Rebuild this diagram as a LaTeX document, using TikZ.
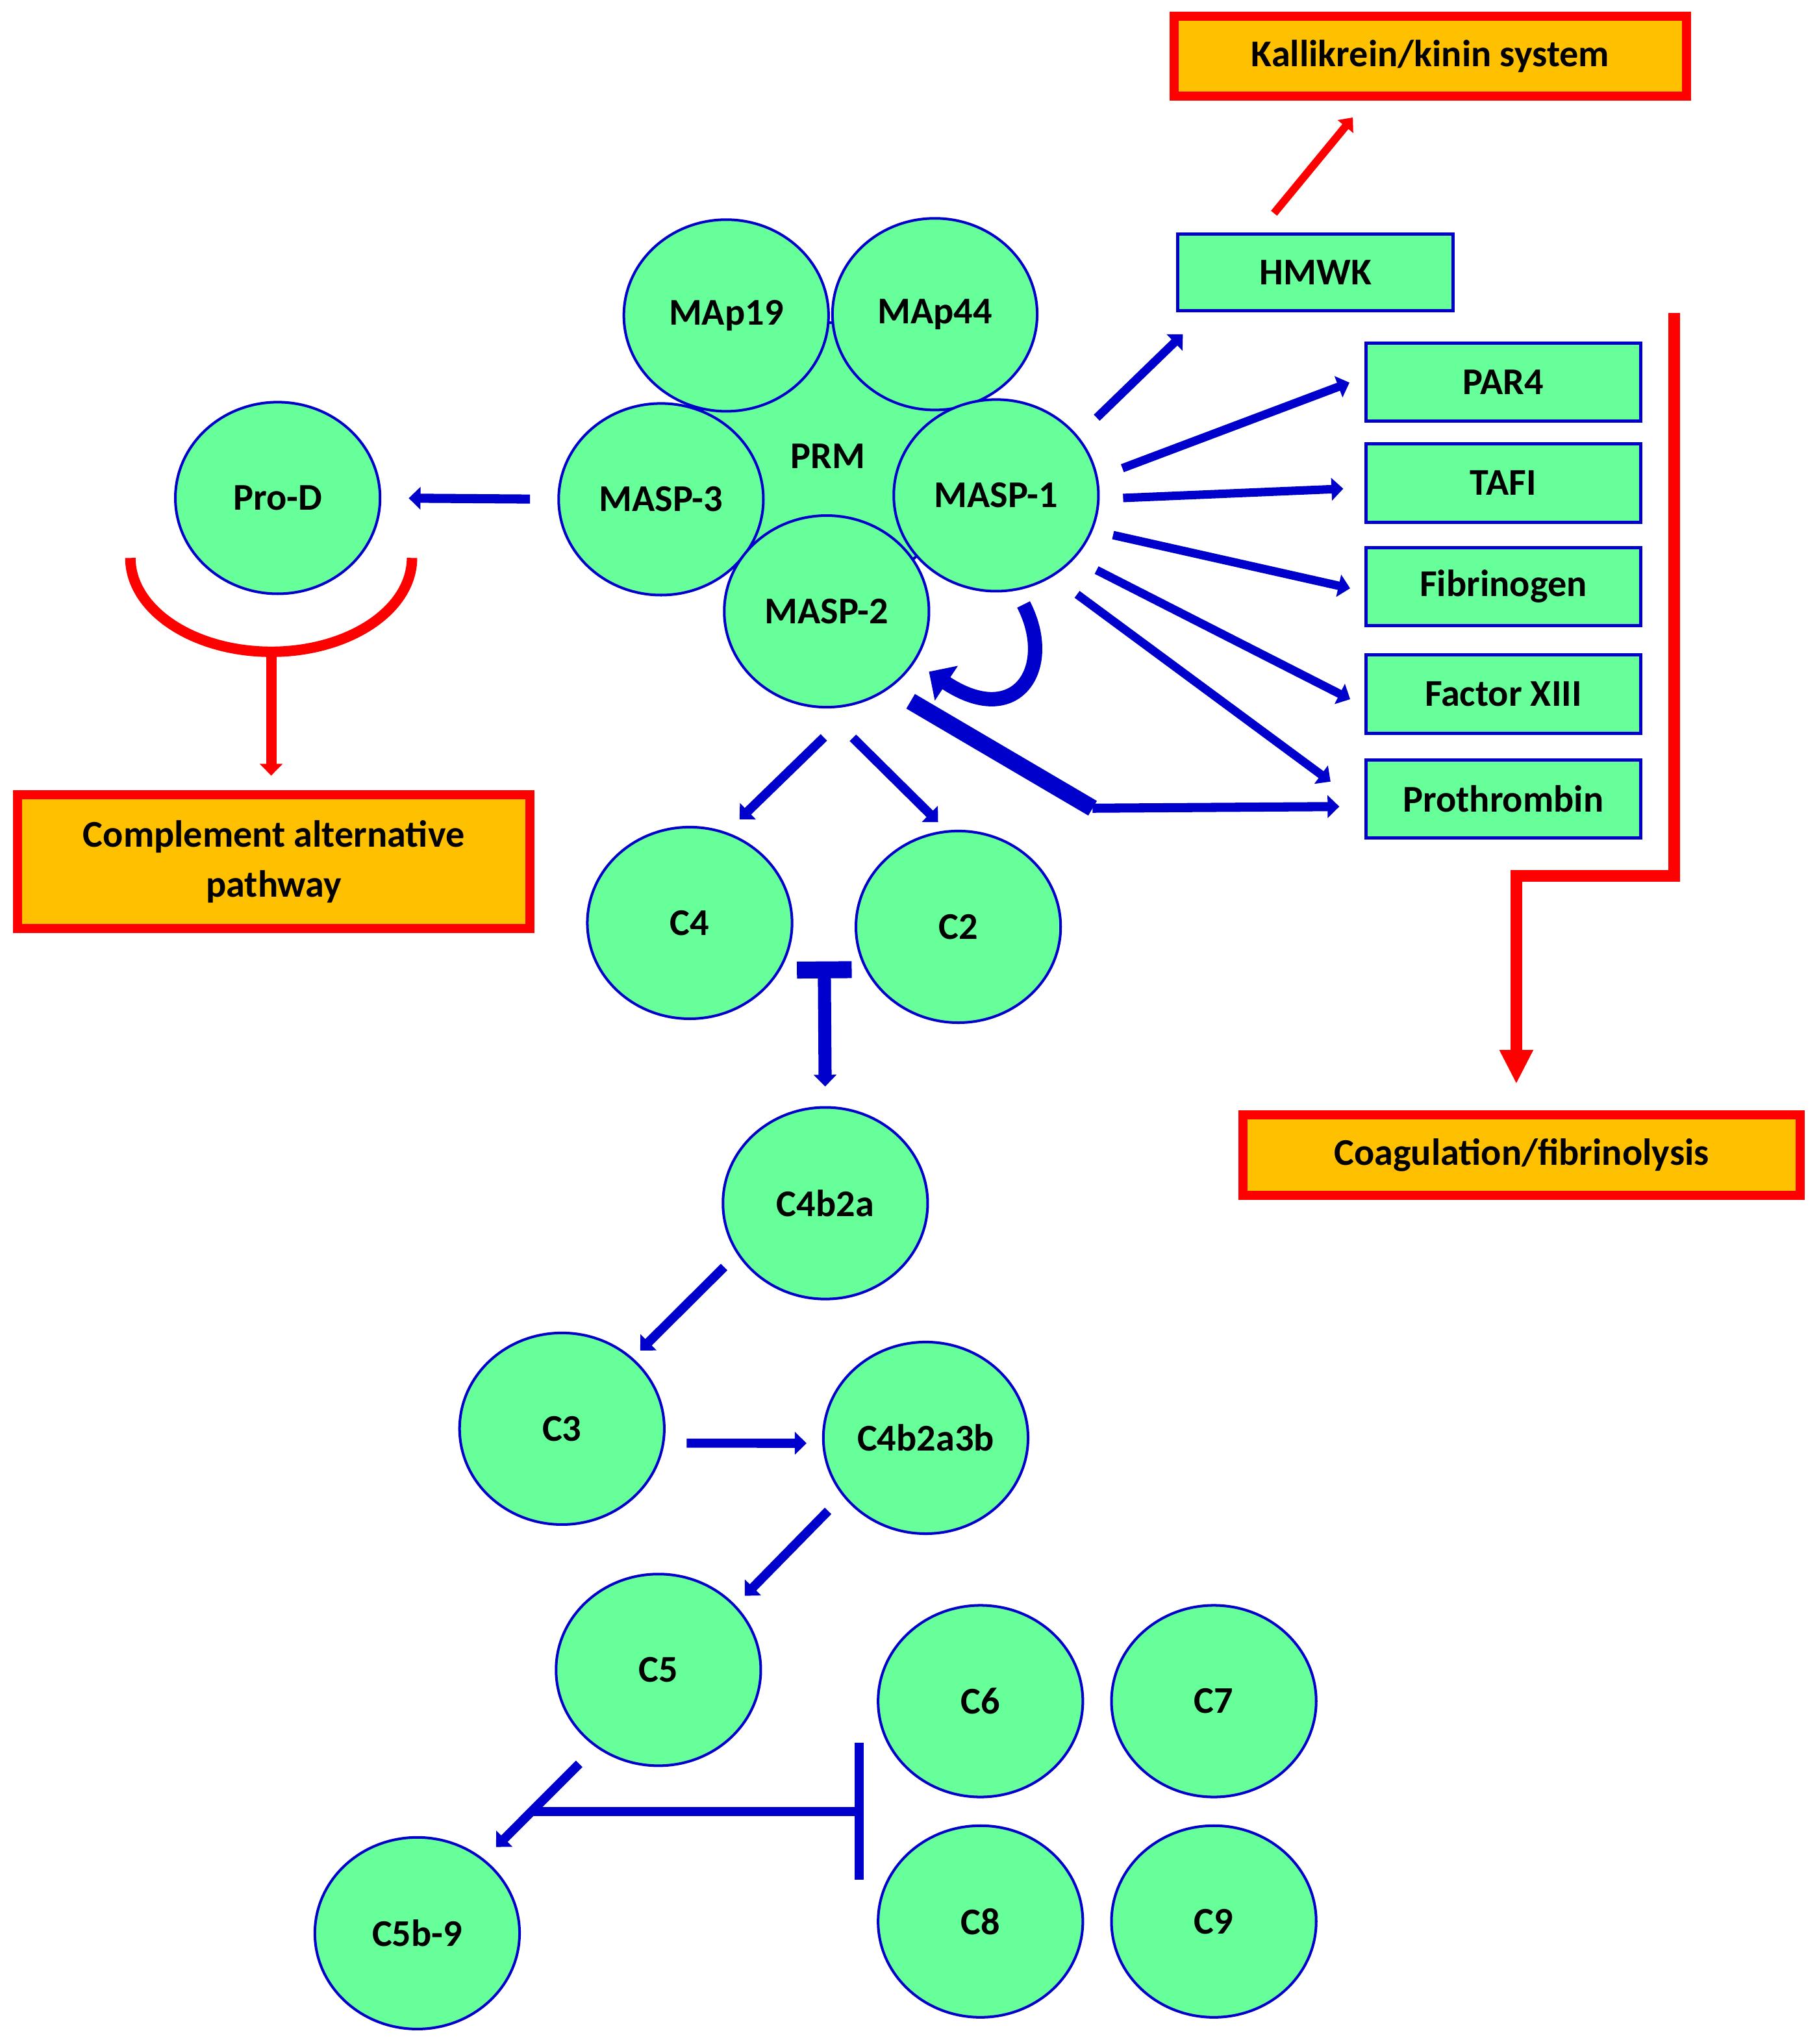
\documentclass[tikz,border=0pt]{standalone}
\usepackage{fontspec}
\setmainfont{Carlito}
\usepackage{xcolor}
\usetikzlibrary{arrows.meta}
\usetikzlibrary{shapes.geometric}
\usetikzlibrary{positioning}
\usetikzlibrary{calc}

\definecolor{lightgreen}{HTML}{66FF99}
\definecolor{darkblue}{HTML}{0000CC}
\definecolor{amber}{HTML}{FFC000}
\definecolor{brightred}{HTML}{FF0000}

\begin{document}
\begin{tikzpicture}
          [x=1pt, y=-1pt,
           every node/.style={font=\fontsize{29}{38}\selectfont\bfseries},
           prot/.style={draw=darkblue, fill=lightgreen, ellipse, line width=2pt,
                        minimum width=157pt, minimum height=147pt, inner sep=0pt},
           subst/.style={draw=darkblue, fill=lightgreen, line width=2.5pt,
                         minimum width=211pt, minimum height=60pt, inner sep=0pt},
           outcome/.style={draw=brightred, fill=amber, line width=7pt,
                           inner sep=0pt, align=center},
           act/.style={draw=darkblue, line width=7pt, -{Triangle[width=17pt,length=9pt]}},
           fan/.style={act, line width=6.5pt},
           redact/.style={draw=brightred, line width=8pt, -{Triangle[width=17pt,length=9pt]}}]

          \useasboundingbox (0,0) rectangle (1395,1568);

          \node (prm) [prot, minimum size=205pt] at (635,350) {PRM};
          \node (map19) [prot] at (557,242) {MAp19};
          \node (map44) [prot] at (717,241) {MAp44};
          \node (masp3) [prot] at (507,383) {MASP-3};
          \node (masp2) [prot] at (634,469) {MASP-2};
          \node (masp1) [prot] at (764,380) {MASP-1};
          \node (prod) [prot] at (213,382) {Pro-D};

          \node (c4) [prot] at (529,708) {C4};
          \node (c2) [prot] at (735,711) {C2};
          \node (c4b2a) [prot] at (633,923) {C4b2a};
          \node (c3) [prot] at (431,1096) {C3};
          \node (c4b2a3b) [prot] at (710,1103) {C4b2a3b};
          \node (c5) [prot] at (505,1281) {C5};
          \node (c6) [prot] at (752,1305) {C6};
          \node (c7) [prot, right=20pt of c6] {C7};
          \node (c8) [prot, below=20pt of c6] {C8};
          \node (c9) [prot, right=20pt of c8] {C9};
          \node (c5b9) [prot] at (320,1483) {C5b-9};

          \node (hmwk) [subst, minimum height=59pt] at (1009,209) {HMWK};
          \node (par4) [subst] at (1153,293) {PAR4};
          \node (tafi) [subst, below=15pt of par4] {TAFI};
          \node (fbg) [subst, below=17pt of tafi] {Fibrinogen};
          \node (fxiii) [subst, below=20pt of fbg] {Factor XIII};
          \node (prothr) [subst, below=18pt of fxiii] {Prothrombin};

          \node (kallik) [outcome, minimum width=393pt, minimum height=61pt] at (1097,43) {Kallikrein/kinin system};
          \node (altpath) [outcome, minimum width=393pt, minimum height=103pt] at (210,661) {Complement alternative\\pathway};
          \node (coag) [outcome, minimum width=427pt, minimum height=62pt] at (1167,886) {Coagulation/fibrinolysis};

          \draw[act, shorten <=21pt, shorten >=21pt] (masp3.west) -- (prod.east);

          \draw[fan, shorten <=20pt, shorten >=24pt] (masp1.36) -- (hmwk.200);
          \draw[fan, shorten <=20pt, shorten >=12pt] (masp1.10) -- (par4.178);
          \draw[fan, shorten <=18pt, shorten >=16pt] (masp1.-2) -- (tafi.182);
          \draw[fan, shorten <=16pt, shorten >=11pt] (masp1.-20) -- (fbg.182);
          \draw[fan, shorten <=19pt, shorten >=12pt] (masp1.-39) -- (fxiii.185);
          \draw[fan, shorten <=23pt, shorten >=32pt] (masp1.-55) -- (prothr.183);

          \coordinate (bend) at (838,620);
          \draw[draw=darkblue, line width=13pt, shorten <=19pt] (masp2.-51) -- (bend);
          \draw[act, shorten >=19pt] (bend) -- (prothr.183);

          \draw[act, line width=11pt, -{Triangle[width=31pt,length=16pt]}, shorten <=12pt, shorten >=13pt]
               (masp1.-78) .. controls (810,512) and (780,560) .. (masp2.-30);

          \draw[act, shorten <=37pt, shorten >=14pt] (masp2.-71) -- (c4.68);
          \draw[act, shorten <=32pt, shorten >=9pt] (masp2.-92) -- (c2.97);

          \coordinate (c42) at ($(c4)!0.5!(c2)$);
          \draw[act, line width=10pt, {Rectangle[length=13pt,width=42pt]}-{Triangle[width=17pt,length=9pt]},
                shorten <=28pt, shorten >=15pt] (c42) -- (c4b2a.north);

          \draw[act, shorten <=14pt, shorten >=8pt] (c4b2a.210) -- (c3.45);
          \draw[act, shorten <=17pt, shorten >=12pt] (c3.-8) -- (c4b2a3b.183);
          \draw[act, shorten <=16pt, shorten >=10pt] (c4b2a3b.215) -- (c5.40);
          \draw[act, shorten <=18pt, shorten >=13pt] (c5.231) -- (c5b9.48) coordinate[pos=0.554] (mac);

          \coordinate (c68) at ($(c6.west)!0.5!(c8.west)$);
          \draw[draw=darkblue, line width=7pt, -{Bar[width=105pt, line width=7pt]}, shorten >=10pt]
               (c68 -| mac) -- (c68);

          \draw[redact, line width=6pt, -{Triangle[width=15pt,length=9pt]}, shorten <=19pt, shorten >=17pt]
               (hmwk.145) -- (kallik.215);

          \coordinate (brtop) at (1284,240);
          \coordinate (brknee) at (1163,672);
          \draw[redact, line width=9pt, -{Triangle[width=24pt,length=26pt]}, shorten >=20pt]
               (brtop) |- (brknee) -- (brknee |- coag.north);

          \draw[draw=brightred, line width=8pt]
               (prod) ++(-113,46) arc[start angle=180, end angle=90, x radius=108, y radius=72]
               coordinate (cupbot) arc[start angle=90, end angle=0, x radius=108, y radius=72];
          \draw[redact, shorten >=11pt] (cupbot) -- (cupbot |- altpath.north);

        \end{tikzpicture}
\end{document}
